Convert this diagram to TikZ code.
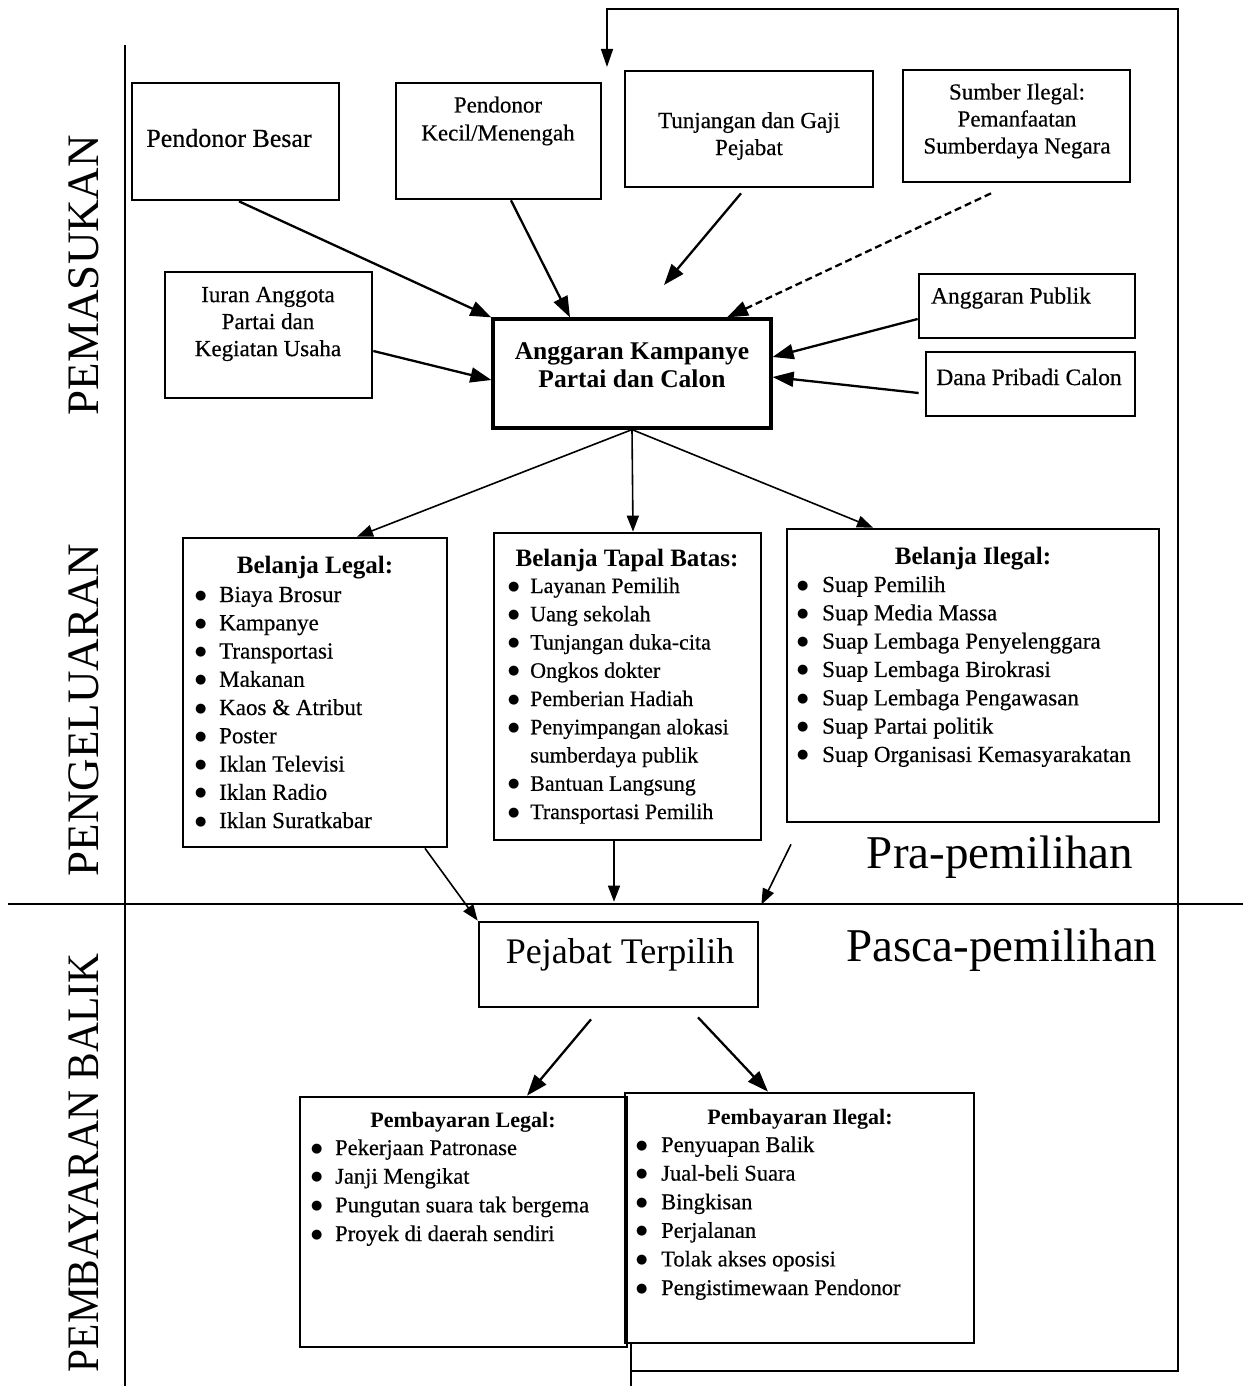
\documentclass[tikz,border=0pt]{standalone}
\usepackage{fontspec}
\setmainfont{Liberation Serif}
\newfontfamily\heavy{Liberation Serif}[FakeBold=0.45]
\newfontfamily\symf{DejaVu Sans}
\usetikzlibrary{arrows.meta,calc}

\newcommand{\fsz}[2]{\fontsize{#1}{#2}\selectfont}
% round list bullet
\newcommand{\bul}{\raisebox{3pt}{\symf\fontsize{13}{13}\selectfont ●}}
% bulleted list: bullet column of width #1, rows in #2
\newcommand{\blist}[2]{\begin{tabular}[t]{@{}p{#1}@{}l@{}}#2\end{tabular}}

\tikzset{
  box/.style={draw, line width=2.7pt, inner sep=0pt},
  mainbox/.style={draw, line width=3.2pt, inner sep=0pt},
  lbl/.style={inner sep=0pt, align=center, font=\heavy\fsz{23}{27}},
  head/.style={inner sep=0pt, anchor=base, font=\bfseries\fsz{25}{28}},
  list/.style={inner sep=0pt, anchor=base west},
  side/.style={inner sep=0pt, rotate=90, font=\fsz{45}{50}},
  era/.style={inner sep=0pt, font=\fsz{47}{50}},
  conn/.style={line width=2.3pt, -{Triangle[length=21pt,width=15pt]}},
  dconn/.style={conn, dash pattern=on 7pt off 4pt},
  thinconn/.style={line width=1.6pt, -{Triangle[length=16pt,width=12pt]}},
  rule/.style={line width=1.5pt},
  fb/.style={line width=1.5pt, -{Triangle[length=18pt,width=12pt]}},
}

\begin{document}
\begin{tikzpicture}[x=1pt,y=-1pt]
\useasboundingbox (0,0) rectangle (1243,1386);
\fill[white] (0,0) rectangle (1243,1386);

% frame rules
\coordinate (leftTop) at (125,45);
\coordinate (leftBot) at (125,1386);
\coordinate (divL) at (8,904);
\coordinate (divR) at (1243,904);
\draw[rule] (leftTop) -- (leftBot);
\draw[rule] (divL) -- (divR);

% section labels
\node[side] (pemasukan) at (84,275) {PEMASUKAN};
\node[side] (pengeluaran) at (84,710) {PENGELUARAN};
\node[side] (pembayaran) at (84,1163) {\scalebox{0.92}[1]{PEMBAYARAN BALIK}};

% income sources
\node[box, minimum width=207pt, minimum height=117pt] (besar) at (235.5,141.5) {};
\node[lbl, font=\heavy\fsz{26}{28}] (besarT) at (229,138) {Pendonor Besar};

\node[box, minimum width=205pt, minimum height=116pt] (kecil) at (498.5,141) {};
\node[lbl, font=\heavy\fsz{23}{28}] (kecilT) at (498,121) {Pendonor\\Kecil/Menengah};

\node[box, minimum width=248pt, minimum height=116pt] (tunj) at (749,129) {};
\node[lbl] (tunjT) at (749,136) {Tunjangan dan Gaji\\Pejabat};

\node[box, minimum width=227pt, minimum height=112pt] (sumber) at (1016.5,126) {};
\node[lbl] (sumberT) at (1017,121) {Sumber Ilegal:\\Pemanfaatan\\Sumberdaya Negara};

\node[box, minimum width=207pt, minimum height=126pt] (iuran) at (268.5,335) {};
\node[lbl] (iuranT) at (268,324) {Iuran Anggota\\Partai dan\\Kegiatan Usaha};

\node[mainbox, minimum width=278pt, minimum height=109pt] (kamp) at (632,373.5) {};
\node[lbl, font=\bfseries\fsz{25.5}{28}] (kampT) at (632,365) {Anggaran Kampanye\\Partai dan Calon};

\node[box, minimum width=216pt, minimum height=64pt] (publik) at (1027,306) {};
\node[lbl, font=\heavy\fsz{23.5}{27}] (publikT) at (1011,298) {Anggaran Publik};

\node[box, minimum width=209pt, minimum height=64pt] (dana) at (1030.5,384) {};
\node[lbl, font=\heavy\fsz{23.5}{27}] (danaT) at (1029,377) {Dana Pribadi Calon};

% spending
\node[box, minimum width=264pt, minimum height=309pt] (legal) at (315,692.5) {};
\node[head] (legalH) at (315,573) {Belanja Legal:};
\node[list, font=\heavy\fsz{23}{28.25}] (legalL) at (195,602) {\blist{24pt}{%
\bul & Biaya Brosur\\
\bul & Kampanye\\
\bul & Transportasi\\
\bul & Makanan\\
\bul & Kaos \& Atribut\\
\bul & Poster\\
\bul & Iklan Televisi\\
\bul & Iklan Radio\\
\bul & Iklan Suratkabar\\}};

\node[box, minimum width=267pt, minimum height=307pt] (tapal) at (627.5,686.5) {};
\node[head] (tapalH) at (627,566) {Belanja Tapal Batas:};
\node[list, font=\heavy\fsz{22}{28.25}] (tapalL) at (508,593) {\blist{22pt}{%
\bul & Layanan Pemilih\\
\bul & Uang sekolah\\
\bul & Tunjangan duka-cita\\
\bul & Ongkos dokter\\
\bul & Pemberian Hadiah\\
\bul & Penyimpangan alokasi\\
 & sumberdaya publik\\
\bul & Bantuan Langsung\\
\bul & Transportasi Pemilih\\}};

\node[box, minimum width=372pt, minimum height=293pt] (ilegal) at (973,675.5) {};
\node[head] (ilegalH) at (973,564) {Belanja Ilegal:};
\node[list, font=\heavy\fsz{23}{28.33}] (ilegalL) at (797,592) {\blist{25pt}{%
\bul & Suap Pemilih\\
\bul & Suap Media Massa\\
\bul & Suap Lembaga Penyelenggara\\
\bul & Suap Lembaga Birokrasi\\
\bul & Suap Lembaga Pengawasan\\
\bul & Suap Partai politik\\
\bul & Suap Organisasi Kemasyarakatan\\}};

% election divide
\node[era] (pra) at (1000,857) {Pra-pemilihan};
\node[era] (pasca) at (1002,950) {Pasca-pemilihan};

\node[box, minimum width=279pt, minimum height=85pt] (pejabat) at (618.5,964.5) {};
\node[lbl, font=\fsz{36}{40}] (pejabatT) at (620,955) {Pejabat Terpilih};

% payback
\node[box, minimum width=327pt, minimum height=250pt] (plegal) at (463.5,1222) {};
\node[head, font=\bfseries\fsz{22}{26}] (plegalH) at (463,1127) {Pembayaran Legal:};
\node[list, font=\heavy\fsz{22.5}{28.67}] (plegalL) at (311,1155) {\blist{24pt}{%
\bul & Pekerjaan Patronase\\
\bul & Janji Mengikat\\
\bul & Pungutan suara tak bergema\\
\bul & Proyek di daerah sendiri\\}};

\node[box, minimum width=349pt, minimum height=250pt] (pilegal) at (799.5,1218) {};
\node[head, font=\bfseries\fsz{22}{26}] (pilegalH) at (800,1124) {Pembayaran Ilegal:};
\node[list, font=\heavy\fsz{22.5}{28.6}] (pilegalL) at (636,1152) {\blist{25pt}{%
\bul & Penyuapan Balik\\
\bul & Jual-beli Suara\\
\bul & Bingkisan\\
\bul & Perjalanan\\
\bul & Tolak akses oposisi\\
\bul & Pengistimewaan Pendonor\\}};

% free arrow ends
\coordinate (tunjEnd) at (664,285);

% income flows
\draw[conn] ([xshift=3.5pt]besar.south) -- (kamp.north west);
\draw[conn] ([xshift=12.5pt]kecil.south) -- ([xshift=-62pt]kamp.north);
\draw[conn] ([xshift=-8pt,yshift=-5pt]tunj.south) -- (tunjEnd);
\draw[dconn] ([xshift=-25.5pt,yshift=-10pt]sumber.south) -- ([xshift=95pt]kamp.north);
\draw[conn] ([yshift=-16pt]iuran.east) -- ([yshift=-6.5pt]kamp.west);
\draw[conn] ([yshift=-13pt]publik.west) -- ([yshift=16.5pt]kamp.east);
\draw[conn] ([xshift=-6pt,yshift=-9pt]dana.west) -- ([yshift=-3.5pt]kamp.east);

% spending flows
\draw[thinconn] (kamp.south) -- ([xshift=42pt]legal.north);
\draw[thinconn] (kamp.south) -- ([xshift=5.5pt]tapal.north);
\draw[thinconn] (kamp.south) -- ([xshift=-100pt]ilegal.north);

\draw[thinconn] ([xshift=110pt]legal.south) -- (pejabat.north west);
\draw[thinconn] ([xshift=-13.5pt]tapal.south) -- ([xshift=-4.5pt,yshift=19pt]pejabat.north);
\draw[thinconn] ([xshift=-182pt,yshift=-21pt]ilegal.south) -- ([xshift=2pt,yshift=16pt]pejabat.north east);

% payback flows
\draw[conn] ([xshift=-27.5pt,yshift=-11pt]pejabat.south) -- ([xshift=63.5pt]plegal.north);
\draw[conn] ([xshift=79.5pt,yshift=-9pt]pejabat.south) -- ([xshift=-31.5pt]pilegal.north);

% feedback loop back to the income side
\coordinate (fbKnee) at (631,1371);
\coordinate (fbBottom) at (631,1386);
\coordinate (fbCornerB) at (1178,1371);
\coordinate (fbCornerT) at (1178,9);
\coordinate (fbTip) at (607,67);
\draw[rule] ([xshift=-168.5pt]pilegal.south) -- (fbBottom);
\draw[fb] (fbKnee) -- (fbCornerB) -- (fbCornerT) -| (fbTip);

\end{tikzpicture}
\end{document}
